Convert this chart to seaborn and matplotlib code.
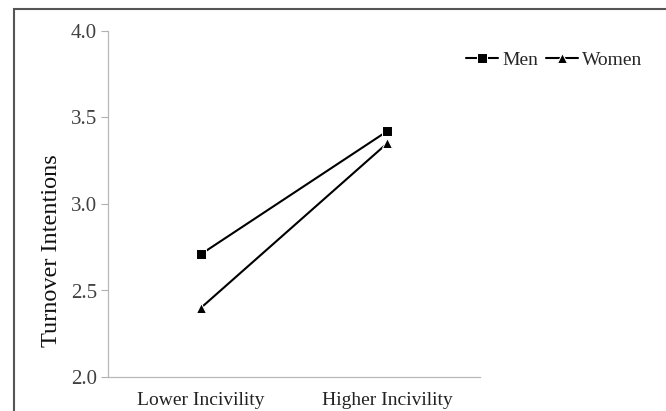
import pandas as pd
import matplotlib.pyplot as plt
import seaborn as sns
from matplotlib.patches import Rectangle

conditions = ['Lower Incivility', 'Higher Incivility']
men = [2.71, 3.42]
women = [2.40, 3.35]

df = pd.DataFrame({
    'Condition': conditions * 2,
    'Turnover': men + women,
    'Gender': ['Men'] * 2 + ['Women'] * 2,
})

sns.set_theme(style="white")
plt.rcParams['font.family'] = ['Liberation Serif', 'DejaVu Serif']

fig = plt.figure(figsize=(6.66, 4.11), dpi=100)
ax = fig.add_axes([108 / 666, 1 - 377 / 411, 372 / 666, 346 / 411])

sns.lineplot(data=df, x='Condition', y='Turnover', style='Gender',
             markers=['s', '^'], dashes=False, color='black',
             markersize=7.5, linewidth=1.5, ax=ax, sort=False)

ax.set_xlim(-0.5, 1.5)
ax.set_ylim(2.0, 4.0)
ax.set_yticks([2.0, 2.5, 3.0, 3.5, 4.0])
ax.set_yticklabels(['2.0', '2.5', '3.0', '3.5', '4.0'])
ax.set_xlabel('')
ax.set_ylabel('Turnover Intentions', fontsize=17.5, color='#111111')
ax.yaxis.set_label_coords(-0.124, 0.364)
ax.tick_params(axis='y', labelsize=15, length=5, width=0.8, pad=3,
               left=True, direction='out', colors='#b0b0b0', labelcolor='#404040')
ax.tick_params(axis='x', labelsize=14, length=0, pad=11, labelcolor='#222222')
for s in ['top', 'right']:
    ax.spines[s].set_visible(False)
for s in ['left', 'bottom']:
    ax.spines[s].set_color('#b8b8b8')
    ax.spines[s].set_linewidth(0.9)

handles, labels = ax.get_legend_handles_labels()
for h in handles:
    h.set_markersize(7.5)
ax.legend(handles, labels, ncol=2, frameon=False, fontsize=14,
          loc='center left', bbox_to_anchor=(466 / 666, 1 - 60 / 411),
          bbox_transform=fig.transFigure, handlelength=1.65, handletextpad=0.2,
          columnspacing=0.4, borderaxespad=0, borderpad=0)

fig.patches.append(Rectangle((14 / 666, -0.05), 1.0, 1 - 9 / 411 + 0.05,
                             transform=fig.transFigure, fill=False,
                             edgecolor='#555555', linewidth=1.5))

fig.savefig('out.png', dpi=100)
